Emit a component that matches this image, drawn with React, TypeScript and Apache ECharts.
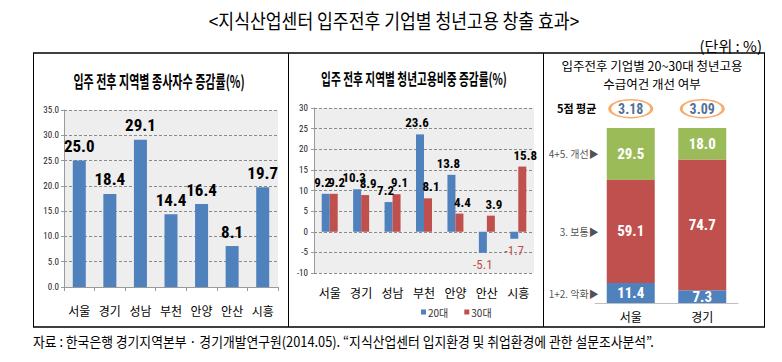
import React, { useEffect, useRef } from 'react';
import * as echarts from 'echarts';

// ---- data ----
const REGIONS = ['서울', '경기', '성남', '부천', '안양', '안산', '시흥'];
const WORKER_GROWTH = [25.0, 18.4, 29.1, 14.4, 16.4, 8.1, 19.7];
const YOUTH_20S = [9.2, 10.3, 7.2, 23.6, 13.8, -5.1, -1.7];
const YOUTH_30S = [9.2, 8.9, 9.1, 8.1, 4.4, 3.9, 15.8];
const SURVEY_REGIONS = ['서울', '경기'];
const WORSE = [11.4, 7.3];
const SAME = [59.1, 74.7];
const BETTER = [29.5, 18.0];
const AVG_SCORE = [3.18, 3.09];
const STACK_LABELS = ['1+2. 악화▶', '3. 보통▶', '4+5. 개선▶'];

const MAIN_TITLE = '<지식산업센터 입주전후 기업별 청년고용 창출 효과>';
const UNIT = '(단위 : %)';
const TITLE1 = '입주 전후 지역별 종사자수 증감률(%)';
const TITLE2 = '입주 전후 지역별 청년고용비중 증감률(%)';
const TITLE3A = '입주전후 기업별 20~30대 청년고용';
const TITLE3B = '수급여건 개선 여부';
const AVG_LABEL = '5점 평균';
const SOURCE = '자료 : 한국은행 경기지역본부 · 경기개발연구원(2014.05). “지식산업센터 입지환경 및 취업환경에 관한 설문조사분석”.';

const KR = "'Noto Sans CJK KR', sans-serif";
const NUM = "'Liberation Sans Narrow', 'Arial Narrow', 'Roboto Condensed', Roboto, 'Noto Sans CJK KR', sans-serif";
const BLUE = '#4f81bd';
const RED = '#c0504d';
const GREEN = '#9bbb59';

const AVG_ROW = 111; // row of the average badges, in % units of the stacked axis

export default function App() {
  const ref = useRef<HTMLDivElement>(null);
  useEffect(() => {
    if (!ref.current) return;
    const chart = echarts.init(ref.current, undefined, { renderer: 'svg' });

    const txt = (text: string, x: number, y: number, o: any = {}) => ({
      type: 'text',
      x,
      y,
      scaleX: o.scaleX ?? 1,
      silent: true,
      style: {
        text,
        fontSize: o.fontSize ?? 12,
        fontFamily: o.fontFamily ?? KR,
        fontWeight: o.fontWeight ?? 'normal',
        fill: o.fill ?? '#000',
        align: o.align ?? 'center',
        verticalAlign: 'middle',
      },
    });
    const line = (x1: number, y1: number, x2: number, y2: number, w = 1) => ({
      type: 'line',
      silent: true,
      shape: { x1, y1, x2, y2 },
      style: { stroke: '#000', lineWidth: w },
    });

    const cum: number[][] = SURVEY_REGIONS.map((_, i) => [
      WORSE[i] / 2,
      WORSE[i] + SAME[i] / 2,
      WORSE[i] + SAME[i] + BETTER[i] / 2,
    ]);

    const dashed = { show: true, lineStyle: { color: '#8a8a8a', type: [3, 2] as any, width: 1 } };

    const option: any = {
      animation: false,
      textStyle: { fontFamily: KR },
      graphic: [
        txt(MAIN_TITLE, 394, 20, { fontSize: 20, scaleX: 0.86 }),
        txt(UNIT, 762, 45, { fontSize: 15, align: 'right' }),
        line(33, 53, 765, 53, 1.5),
        line(33, 327, 765, 327, 1.5),
        line(33.5, 53, 33.5, 327),
        line(288.5, 53, 288.5, 327),
        line(543.5, 53, 543.5, 327),
        line(764.5, 53, 764.5, 327),
        txt(TITLE1, 159, 80, { fontSize: 17, fontWeight: 'bold', scaleX: 0.65 }),
        txt(TITLE2, 414, 78, { fontSize: 16, fontWeight: 'bold', scaleX: 0.67 }),
        txt(TITLE3A, 652, 65, { fontSize: 12.5 }),
        txt(TITLE3B, 652, 83, { fontSize: 12.5 }),
        txt(AVG_LABEL, 557, 108, { fontSize: 11, fontWeight: 'bold', align: 'left' }),
        txt(SOURCE, 33, 341, { fontSize: 14, align: 'left', scaleX: 0.915 }),
      ],
      legend: {
        data: ['20대', '30대'],
        left: 421,
        top: 307,
        padding: 0,
        itemWidth: 5,
        itemHeight: 5,
        itemGap: 16,
        icon: 'rect',
        textStyle: { fontSize: 10, color: '#333', fontFamily: KR, padding: [0, 0, 0, -3] },
      },
      grid: [
        { left: 64, top: 110, width: 214, height: 177, show: true, backgroundColor: '#eeeeee', borderWidth: 0 },
        { left: 314, top: 108, width: 220, height: 165, show: true, backgroundColor: '#eeeeee', borderWidth: 0 },
        { left: 595, top: 128, width: 143, height: 175, show: false },
      ],
      xAxis: [
        {
          type: 'category', gridIndex: 0, data: REGIONS,
          axisLine: { lineStyle: { color: '#9a9a9a' } },
          axisTick: { show: true, length: 4, lineStyle: { color: '#9a9a9a' } },
          axisLabel: { fontSize: 12, color: '#000', margin: 17, fontFamily: KR },
        },
        {
          type: 'category', gridIndex: 1, data: REGIONS,
          axisLine: { show: false, onZero: false },
          axisTick: { show: false },
          axisLabel: { fontSize: 12, color: '#000', margin: 13, fontFamily: KR },
        },
        {
          type: 'category', gridIndex: 2, data: SURVEY_REGIONS,
          axisLine: { lineStyle: { color: '#c0c0c0' } },
          axisTick: { show: false },
          axisLabel: { fontSize: 12, color: '#000', margin: 7, fontFamily: KR },
        },
      ],
      yAxis: [
        {
          type: 'value', gridIndex: 0, min: 0, max: 35, interval: 5,
          axisLine: { show: true, lineStyle: { color: '#9a9a9a' } },
          axisTick: { show: true, length: 3, lineStyle: { color: '#9a9a9a' } },
          axisLabel: { fontSize: 9, color: '#222', margin: 5, fontFamily: NUM, formatter: (v: number) => v.toFixed(1) },
          splitLine: dashed,
        },
        {
          type: 'value', gridIndex: 1, min: -10, max: 30, interval: 5,
          axisLine: { show: true, lineStyle: { color: '#9a9a9a' } },
          axisTick: { show: true, length: 3, lineStyle: { color: '#9a9a9a' } },
          axisLabel: { fontSize: 9, color: '#222', margin: 6, fontFamily: NUM },
          splitLine: dashed,
        },
        { type: 'value', gridIndex: 2, min: 0, max: 100, show: false },
      ],
      series: [
        {
          name: '종사자수', type: 'bar', xAxisIndex: 0, yAxisIndex: 0,
          data: WORKER_GROWTH, barWidth: 13,
          itemStyle: { color: BLUE },
          label: {
            show: true, position: 'top', distance: 6, fontSize: 17, fontWeight: 'bold',
            color: '#000', fontFamily: NUM, formatter: (p: any) => Number(p.value).toFixed(1),
          },
        },
        ...[
          { name: '20대', data: YOUTH_20S, color: BLUE, shift: -3 },
          { name: '30대', data: YOUTH_30S, color: RED, shift: 3 },
        ].map((s) => ({
          name: s.name, type: 'bar', xAxisIndex: 1, yAxisIndex: 1,
          barWidth: 8, barGap: '0%',
          itemStyle: { color: s.color },
          data: s.data.map((v) => ({
            value: v,
            label: v < 0
              ? { position: 'bottom', color: RED, fontWeight: 'normal', offset: [0, 0] }
              : { offset: [s.shift, 0] },
          })),
          label: {
            show: true, position: 'top', distance: 5, fontSize: 13, fontWeight: 'bold',
            color: '#000', fontFamily: NUM, formatter: (p: any) => Number(p.value).toFixed(1),
          },
        })),
        ...[
          { name: '악화', data: WORSE, color: BLUE },
          { name: '보통', data: SAME, color: RED },
          { name: '개선', data: BETTER, color: GREEN },
        ].map((s) => ({
          name: s.name, type: 'bar', stack: 'survey', xAxisIndex: 2, yAxisIndex: 2,
          barWidth: 48, data: s.data,
          itemStyle: { color: s.color },
          label: {
            show: true, position: 'inside', fontSize: 15, fontWeight: 'bold', color: '#fff',
            fontFamily: NUM, formatter: (p: any) => Number(p.value).toFixed(1),
          },
        })),
        {
          name: '구분', type: 'scatter', xAxisIndex: 2, yAxisIndex: 2,
          symbolSize: 0, silent: true,
          data: cum[0].map((y) => [SURVEY_REGIONS[0], y]),
          label: {
            show: true, position: 'left', distance: 32, fontSize: 10, color: '#222', fontFamily: KR,
            formatter: (p: any) => STACK_LABELS[p.dataIndex],
          },
        },
        {
          name: '평균', type: 'scatter', xAxisIndex: 2, yAxisIndex: 2, clip: false, silent: true,
          symbol: 'path://M1,0 A1,1 0 1,1 -1,0 A1,1 0 1,1 1,0 Z',
          symbolKeepAspect: false,
          symbolSize: [42, 18],
          itemStyle: { color: '#ffffff', borderColor: '#f79646', borderWidth: 2 },
          data: AVG_SCORE.map((v, i) => ({ value: [SURVEY_REGIONS[i], AVG_ROW], score: v })),
          label: {
            show: true, position: 'inside', fontSize: 14, fontWeight: 'bold', color: '#1f497d',
            fontFamily: NUM, formatter: (p: any) => AVG_SCORE[p.dataIndex].toFixed(2),
          },
        },
      ],
    };
    chart.setOption(option);
    return () => chart.dispose();
  }, []);
  return (
    <div
      ref={ref}
      style={{ position: 'absolute', left: 0, top: 0, width: 782, height: 362, background: '#fff' }}
    />
  );
}
